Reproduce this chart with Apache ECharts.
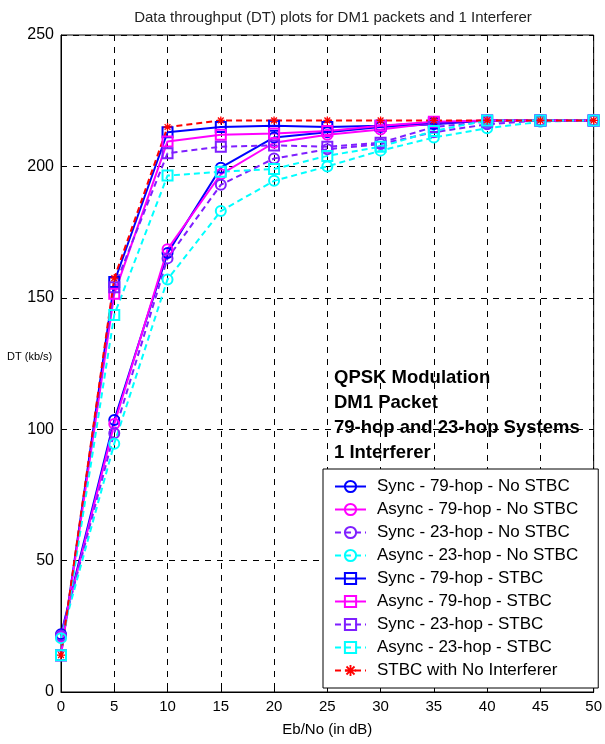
<!DOCTYPE html>
<html lang="en">
<head>
<meta charset="UTF-8">
<title>DT plots</title>
<script src="https://cdn.jsdelivr.net/npm/echarts@6/dist/echarts.min.js"></script>
<style>
  html, body { margin: 0; padding: 0; background: #fff; }
  #main { width: 605px; height: 744px; }
</style>
</head>
<body>
<div id="main"></div>
<script>
// Eb/No values (dB)
var ebno = [0, 5, 10, 15, 20, 25, 30, 35, 40, 45, 50];

// throughput in kb/s
var sync79 = [22, 103.5, 167, 199.5, 211, 213, 215, 216, 217.5, 217.5, 217.5];
var async79 = [21, 102, 168.5, 197, 209, 212, 214, 216.5, 217.5, 217.5, 217.5];
var sync23 = [21.5, 98.5, 165, 193, 203, 206.5, 208.5, 213, 216, 217.5, 217.5];
var async23 = [20.5, 94.5, 157, 183, 194.5, 200, 206, 211, 214.5, 217, 217.5];
var sync79S = [14, 156, 213, 215, 215.5, 215, 215.5, 216.5, 217.5, 217.5, 217.5];
var async79S = [14, 151.5, 209.5, 212, 212.5, 213.5, 215.5, 217, 217.5, 217.5, 217.5];
var sync23S = [14, 154, 205, 207.5, 208, 207.5, 209, 215, 217, 217.5, 217.5];
var async23S = [14, 143.5, 196.5, 198, 199, 204, 207.5, 213.5, 217.5, 217.5, 217.5];
var noInterf = [14, 157.5, 215, 217.5, 217.5, 217.5, 217.5, 217.5, 217.5, 217.5, 217.5];

var xTicks = [0, 5, 10, 15, 20, 25, 30, 35, 40, 45, 50];
var yTicks = [0, 50, 100, 150, 200, 250];

var BLUE = '#0000ff', MAG = '#ff00ff', PUR = '#7f1fff', CYAN = '#00ffff', RED = '#ff0000';
var star = 'path://M4,0h2v3.6l2.6-2.6 1.4,1.4-2.6,2.6h3.6v2h-3.6l2.6,2.6-1.4,1.4-2.6-2.6v3.6h-2v-3.6l-2.6,2.6-1.4-1.4 2.6-2.6h-3.6v-2h3.6l-2.6-2.6 1.4-1.4 2.6,2.6z';

function pairs(vals) {
    var out = [];
    for (var i = 0; i < vals.length; i++) out.push([ebno[i], vals[i]]);
    return out;
}

function line(name, vals, color, dashed, symbol) {
    var isStar = symbol === star;
    return {
        name: name,
        type: 'line',
        data: pairs(vals),
        symbol: symbol,
        symbolSize: isStar ? 8 : 10,
        showAllSymbol: true,
        lineStyle: { color: color, width: 2, type: dashed ? [6, 4] : 'solid' },
        itemStyle: isStar ? { color: color } : { color: 'rgba(0,0,0,0)', borderColor: color, borderWidth: 2 },
        emphasis: { disabled: true },
        animation: false
    };
}

var chart = echarts.init(document.getElementById('main'));
var option = {
    backgroundColor: '#fff',
    textStyle: { fontFamily: 'Liberation Sans' },
    title: {
        text: 'Data throughput (DT) plots for DM1 packets and 1 Interferer',
        left: 328, top: 5, textAlign: 'center',
        textStyle: { fontSize: 15, fontWeight: 'normal', color: '#222', fontFamily: 'Liberation Sans' }
    },
    grid: {
        left: 61, right: 8, top: 35, bottom: 52,
        show: true, borderColor: '#000', borderWidth: 1
    },
    xAxis: {
        type: 'value', min: 0, max: 50, interval: 5,
        name: 'Eb/No (in dB)', nameLocation: 'middle', nameGap: 30,
        nameTextStyle: { fontSize: 15, color: '#000' },
        axisLine: { lineStyle: { color: '#000' } },
        axisTick: { inside: true, length: 5, lineStyle: { color: '#000' } },
        axisLabel: { fontSize: 15, color: '#000', margin: 7,
            formatter: function (v) { return xTicks.indexOf(v) >= 0 ? String(v) : ''; } },
        splitLine: { lineStyle: { color: '#000', type: [6, 6], width: 1 } }
    },
    yAxis: {
        type: 'value', min: 0, max: 250, interval: 50,
        axisLine: { lineStyle: { color: '#000' } },
        axisTick: { inside: true, length: 5, lineStyle: { color: '#000' } },
        axisLabel: { fontSize: 16, color: '#000', margin: 7,
            formatter: function (v) { return yTicks.indexOf(v) >= 0 ? String(v) : ''; } },
        splitLine: { lineStyle: { color: '#000', type: [6, 6], width: 1 } }
    },
    legend: {
        orient: 'vertical',
        left: 323, top: 469,
        padding: [9, 20, 9, 11],
        itemWidth: 31, itemHeight: 14, itemGap: 6,
        backgroundColor: '#fff', borderColor: '#000', borderWidth: 1,
        textStyle: { fontSize: 17, color: '#000', padding: [0, 0, 0, 6] }
    },
    graphic: [
        {
            type: 'text', left: 7, top: 351,
            style: { text: 'DT (kb/s)', fontSize: 11, fill: '#000', fontFamily: 'Liberation Sans' }
        },
        {
            type: 'text', left: 334, top: 365,
            style: {
                text: 'QPSK Modulation\nDM1 Packet\n79-hop and 23-hop Systems\n1 Interferer',
                fontSize: 18.5, fontWeight: 'bold', lineHeight: 25, fill: '#000',
                fontFamily: 'Liberation Sans'
            }
        }
    ],
    series: [
        line('Sync - 79-hop - No STBC', sync79, BLUE, false, 'circle'),
        line('Async - 79-hop - No STBC', async79, MAG, false, 'circle'),
        line('Sync - 23-hop - No STBC', sync23, PUR, true, 'circle'),
        line('Async - 23-hop - No STBC', async23, CYAN, true, 'circle'),
        line('Sync - 79-hop - STBC', sync79S, BLUE, false, 'rect'),
        line('Async - 79-hop - STBC', async79S, MAG, false, 'rect'),
        line('Sync - 23-hop - STBC', sync23S, PUR, true, 'rect'),
        line('Async - 23-hop - STBC', async23S, CYAN, true, 'rect'),
        line('STBC with No Interferer', noInterf, RED, true, star)
    ]
};
chart.setOption(option);
</script>
</body>
</html>
